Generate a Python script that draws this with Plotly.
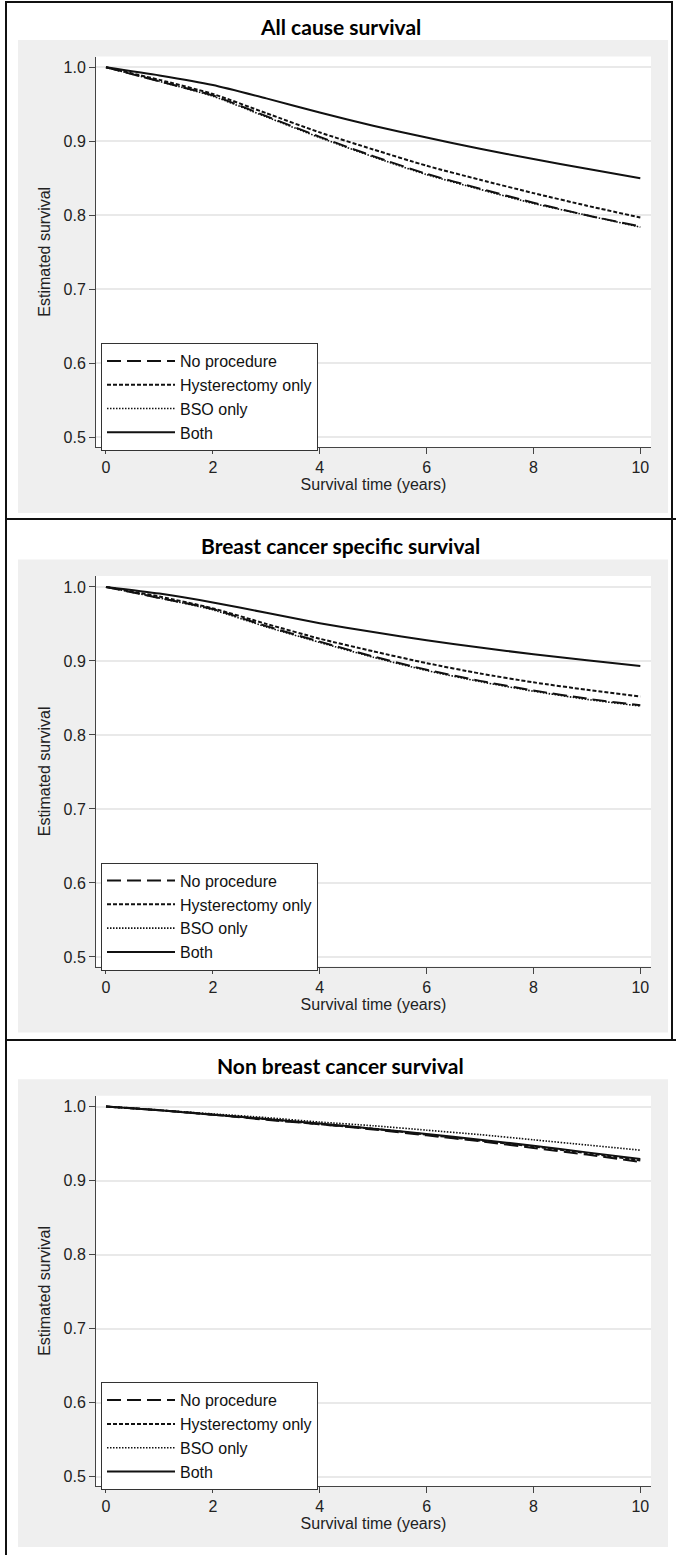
import plotly.graph_objects as go

# ---------------- data ----------------
years = [0, 1, 2, 3, 4, 5, 6, 7, 8, 9, 10]
series_names = ["No procedure", "Hysterectomy only", "BSO only", "Both"]
panel_titles = ["All cause survival", "Breast cancer specific survival", "Non breast cancer survival"]
x_ticks = [0, 2, 4, 6, 8, 10]
y_ticks = [0.5, 0.6, 0.7, 0.8, 0.9, 1.0]
y_tick_labels = ["0.5", "0.6", "0.7", "0.8", "0.9", "1.0"]

all_cause_no_procedure = [1.0, 0.981, 0.962, 0.934, 0.906, 0.880, 0.856, 0.836, 0.817, 0.800, 0.785]
all_cause_hysterectomy = [1.0, 0.983, 0.964, 0.938, 0.912, 0.889, 0.867, 0.848, 0.830, 0.813, 0.797]
all_cause_bso = [1.0, 0.981, 0.961, 0.933, 0.905, 0.879, 0.855, 0.835, 0.816, 0.800, 0.784]
all_cause_both = [1.0, 0.989, 0.976, 0.958, 0.939, 0.921, 0.905, 0.890, 0.876, 0.863, 0.850]

bc_no_procedure = [1.0, 0.985, 0.970, 0.947, 0.926, 0.906, 0.888, 0.873, 0.860, 0.849, 0.840]
bc_hysterectomy = [1.0, 0.987, 0.971, 0.950, 0.930, 0.913, 0.897, 0.883, 0.871, 0.861, 0.852]
bc_bso = [1.0, 0.985, 0.969, 0.946, 0.925, 0.905, 0.887, 0.872, 0.859, 0.848, 0.839]
bc_both = [1.0, 0.991, 0.979, 0.965, 0.951, 0.939, 0.928, 0.918, 0.909, 0.901, 0.893]

nonbc_no_procedure = [1.0, 0.995, 0.989, 0.982, 0.976, 0.969, 0.961, 0.953, 0.944, 0.935, 0.925]
nonbc_hysterectomy = [1.0, 0.995, 0.989, 0.983, 0.976, 0.970, 0.962, 0.954, 0.946, 0.937, 0.927]
nonbc_bso = [1.0, 0.995, 0.990, 0.985, 0.979, 0.974, 0.968, 0.962, 0.955, 0.948, 0.941]
nonbc_both = [1.0, 0.995, 0.989, 0.983, 0.977, 0.970, 0.963, 0.955, 0.947, 0.938, 0.929]

panels = [
    [all_cause_no_procedure, all_cause_hysterectomy, all_cause_bso, all_cause_both],
    [bc_no_procedure, bc_hysterectomy, bc_bso, bc_both],
    [nonbc_no_procedure, nonbc_hysterectomy, nonbc_bso, nonbc_both],
]

# ---------------- styling ----------------
W, H = 676, 1555
FONT = "Liberation Sans, Arial, sans-serif"
TITLE_FONT = "Lato, Carlito, sans-serif"
dashes = ["14px,6px", "4px,2px", "1.5px,1.5px", "solid"]
widths = [2, 2, 1.6, 2]
AX = "#444444"
FS = 16


def fx(px):
    return px / W


def fy(py):
    return 1 - py / H


offsets = [0, 519.6, 1039.2]
gray_bottoms = [513, 1032.6, 1547]
plot_left, plot_right = 96, 651

fig = go.Figure()
shapes = []
annotations = []
layout_axes = {}

for k, (series_set, title) in enumerate(zip(panels, panel_titles)):
    o = offsets[k]
    xa = "x" if k == 0 else f"x{k+1}"
    ya = "y" if k == 0 else f"y{k+1}"
    lg = "legend" if k == 0 else f"legend{k+1}"
    for name, vals, dash, w in zip(series_names, series_set, dashes, widths):
        fig.add_trace(go.Scatter(
            x=years, y=vals, name=name, mode="lines",
            line=dict(color="#111111", width=w, dash=dash, shape="spline", smoothing=0.6),
            xaxis=xa, yaxis=ya, legend=lg, hoverinfo="skip",
        ))

    top, bottom = 56.5 + o, 447 + o
    xkey = "xaxis" if k == 0 else f"xaxis{k+1}"
    ykey = "yaxis" if k == 0 else f"yaxis{k+1}"
    layout_axes[xkey] = dict(
        domain=[fx(plot_left), fx(plot_right)], range=[-0.187, 10.2], anchor=ya,
        tickvals=x_ticks, ticks="outside", ticklen=6, tickcolor=AX, tickwidth=1,
        showline=True, linecolor=AX, linewidth=1, showgrid=False, zeroline=False,
        tickfont=dict(family=FONT, size=FS, color="#222"),
        title=dict(text="Survival time (years)", standoff=0,
                   font=dict(family=FONT, size=FS, color="#222")),
    )
    layout_axes[ykey] = dict(
        domain=[fy(bottom), fy(top)], range=[0.4869, 1.0146], anchor=xa,
        tickvals=y_ticks, ticktext=y_tick_labels, ticks="outside", ticklen=6,
        tickcolor=AX, tickwidth=1, showline=True, linecolor=AX, linewidth=1,
        showgrid=True, gridcolor="#e9e9e9", gridwidth=1.5, zeroline=False,
        tickfont=dict(family=FONT, size=FS, color="#222"),
        title=dict(text="Estimated survival", standoff=8,
                   font=dict(family=FONT, size=FS, color="#222")),
    )
    layout_axes[lg] = dict(
        x=fx(101), y=fy(343 + o), xanchor="left", yanchor="top",
        bgcolor="white", bordercolor="#333333", borderwidth=1,
        font=dict(family=FONT, size=FS, color="#111"),
        itemwidth=68, tracegroupgap=0, itemclick=False, itemdoubleclick=False,
    )

    # gray panel background and white plot area
    shapes.append(dict(type="rect", xref="paper", yref="paper", layer="below",
                       x0=fx(18), x1=fx(668), y0=fy(gray_bottoms[k]), y1=fy(40 + o),
                       fillcolor="#efefef", line=dict(width=0)))
    shapes.append(dict(type="rect", xref="paper", yref="paper", layer="below",
                       x0=fx(plot_left), x1=fx(plot_right), y0=fy(bottom), y1=fy(top),
                       fillcolor="white", line=dict(width=0)))
    annotations.append(dict(text=f"<b>{title}</b>", xref="paper", yref="paper",
                            x=fx(340), y=fy(26 + o), xanchor="center", yanchor="middle",
                            showarrow=False, font=dict(family=TITLE_FONT, size=21, color="black")))

# frame lines
frame = [
    (5, 2, 673, 2),
    (6, 2, 6, 1555),
    (672, 2, 672, 1040),
    (6, 519, 676, 519),
    (6, 1040, 676, 1040),
]
for x0, y0, x1, y1 in frame:
    shapes.append(dict(type="line", xref="paper", yref="paper", layer="above",
                       x0=fx(x0), y0=fy(y0), x1=fx(x1), y1=fy(y1),
                       line=dict(color="#111111", width=2)))

fig.update_layout(
    width=W, height=H, margin=dict(l=0, r=0, t=0, b=0),
    paper_bgcolor="white", plot_bgcolor="rgba(0,0,0,0)",
    shapes=shapes, annotations=annotations, showlegend=True,
    font=dict(family=FONT, color="#222"),
    **layout_axes,
)

fig.write_html("out.html", config={"displayModeBar": False},
               post_script="document.body.style.margin='0';document.body.style.padding='0';")
